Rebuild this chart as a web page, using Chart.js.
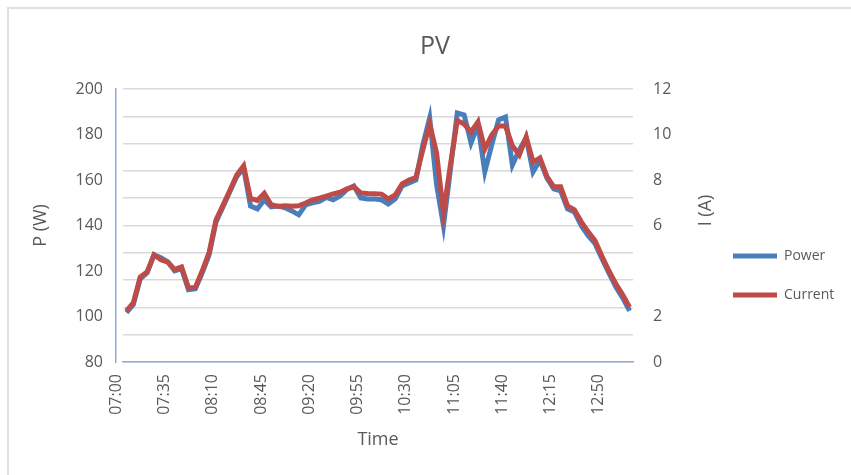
<!DOCTYPE html>
<html>
<head>
<meta charset="utf-8">
<title>PV</title>
<script src="https://cdn.jsdelivr.net/npm/chart.js@4"></script>
<style>
  html, body { margin: 0; padding: 0; background: #fff; }
  #wrap { position: relative; width: 851px; height: 475px; }
  #frame { position: absolute; left: 7px; top: 7px; right: 0; bottom: 0;
           border-top: 2px solid #e0e0e0; border-left: 2px solid #e0e0e0; pointer-events: none; }
</style>
</head>
<body>
<div id="wrap">
  <canvas id="myChart" width="851" height="475"></canvas>
  <div id="frame"></div>
</div>
<script>
/* data, one reading every 5 minutes */

const times = [
  '07:00', '07:05', '07:10', '07:15', '07:20', '07:25', '07:30', '07:35', '07:40', '07:45', '07:50', '07:55',
  '08:00', '08:05', '08:10', '08:15', '08:20', '08:25', '08:30', '08:35', '08:40', '08:45', '08:50', '08:55',
  '09:00', '09:05', '09:10', '09:15', '09:20', '09:25', '09:30', '09:35', '09:40', '09:45', '09:50', '09:55',
  '10:00', '10:05', '10:10', '10:15', '10:20', '10:25', '10:30', '10:35', '10:40', '10:45', '10:50', '10:55',
  '11:00', '11:05', '11:10', '11:15', '11:20', '11:25', '11:30', '11:35', '11:40', '11:45', '11:50', '11:55',
  '12:00', '12:05', '12:10', '12:15', '12:20', '12:25', '12:30', '12:35', '12:40', '12:45', '12:50', '12:55',
  '13:00', '13:05'
];

// P (W), left axis
const power = [
  101.7, 105.2, 116.6, 119.2, 127.1, 125.8, 124.0, 120.1, 121.0, 111.8,
  112.2, 119.2, 127.1, 141.6, 148.2, 154.8, 161.4, 165.3, 148.6, 147.3,
  151.3, 148.2, 148.6, 147.8, 146.4, 144.7, 149.1, 150.0, 150.6, 152.4,
  151.3, 153.0, 155.9, 157.4, 152.1, 151.7, 151.6, 151.3, 149.5, 151.7,
  157.4, 158.7, 160.0, 175.4, 187.3, 157.9, 139.9, 164.4, 189.5, 188.6,
  176.3, 184.2, 163.6, 175.4, 186.4, 187.7, 166.6, 173.2, 178.5, 163.6,
  168.8, 160.9, 156.1, 155.2, 147.3, 146.0, 139.9, 135.5, 132.0, 125.4,
  119.2, 113.1, 108.2, 102.5
];

// I (A), right axis
const current = [
  2.25, 2.60, 3.74, 3.96, 4.71, 4.49, 4.39, 4.07, 4.18, 3.26,
  3.28, 4.01, 4.82, 6.25, 6.89, 7.54, 8.22, 8.62, 7.19, 7.10,
  7.41, 6.91, 6.84, 6.87, 6.85, 6.87, 6.99, 7.13, 7.20, 7.29,
  7.39, 7.46, 7.61, 7.70, 7.43, 7.41, 7.40, 7.38, 7.17, 7.34,
  7.83, 8.00, 8.11, 9.32, 10.46, 9.19, 6.55, 8.66, 10.61, 10.46,
  10.11, 10.55, 9.36, 9.98, 10.37, 10.37, 9.50, 9.10, 9.89, 8.79,
  8.97, 8.16, 7.70, 7.70, 6.86, 6.69, 6.16, 5.72, 5.33, 4.65,
  4.01, 3.44, 2.95, 2.41
];

const labelEvery = 7;                   // one time label per 35 min
const leftTicks = [80, 100, 120, 140, 160, 180, 200];
const rightTicks = [0, 2, 6, 8, 10, 12]; // the "4" is not shown in the original

const textColor = '#595959';
const axisBlue = '#8eaadb';

Chart.defaults.font.family = '"Open Sans", sans-serif';
Chart.defaults.color = textColor;

// right axis title reads bottom-to-top, like the left one
const rightTitle = {
  id: 'rightTitle',
  afterDraw(chart) {
    const { ctx, chartArea, scales } = chart;
    ctx.save();
    ctx.translate(scales.y1.right - 2, (chartArea.top + chartArea.bottom) / 2 - 15);
    ctx.rotate(-Math.PI / 2);
    ctx.font = '18px "Open Sans"';
    ctx.fillStyle = textColor;
    ctx.textAlign = 'center';
    ctx.textBaseline = 'middle';
    ctx.fillText('I (A)', 0, 0);
    ctx.restore();
  }
};

const ctx = document.getElementById('myChart').getContext('2d');

const chart = new Chart(ctx, {
  type: 'line',
  data: {
    labels: times,
    datasets: [{
      label: 'Power',
      data: power,
      yAxisID: 'y',
      borderColor: '#4a7ebb',
      backgroundColor: '#4a7ebb',
      borderWidth: 5,
      pointRadius: 0,
      tension: 0,
      order: 2,
    },
    {
      label: 'Current',
      data: current,
      yAxisID: 'y1',
      borderColor: '#be4b48',
      backgroundColor: '#be4b48',
      borderWidth: 5,
      pointRadius: 0,
      tension: 0,
      order: 1,
    }]
  },
  options: {
    responsive: false,
    animation: false,
    layout: { padding: { left: 26, right: 7, top: 0, bottom: 20 } },
    plugins: {
      title: {
        display: true,
        text: 'PV',
        color: textColor,
        font: { size: 25, weight: 'normal' },
        padding: { top: 32, bottom: 27 },
      },
      legend: {
        position: 'right',
        align: 'center',
        maxWidth: 136,
        // empty title just pushes the two entries down a bit
        title: { display: true, text: ' ', font: { size: 10 }, padding: { top: 84, bottom: 0 } },
        labels: {
          usePointStyle: true,
          pointStyle: 'line',
          pointStyleWidth: 44,
          padding: 25,
          color: textColor,
          font: { size: 14 },
          sort: (a, b) => a.datasetIndex - b.datasetIndex,
        },
      },
      tooltip: { enabled: false },
    },
    scales: {
      x: {
        type: 'category',
        offset: true,
        grid: { display: false, drawTicks: false },
        border: { display: true, color: axisBlue, width: 1.5 },
        ticks: {
          autoSkip: false,
          minRotation: 90,
          maxRotation: 90,
          padding: 12,
          labelOffset: -10,
          font: { size: 16 },
          callback: function (value, index) {
            return index % labelEvery === 0 ? this.getLabelForValue(value) : '';
          },
        },
        title: { display: true, text: 'Time', font: { size: 18 }, padding: { top: 4, bottom: 4 } },
        afterFit: function (scale) { scale.height = 93; },
      },
      y: {
        position: 'left',
        weight: 1,
        min: leftTicks[0],
        max: leftTicks[leftTicks.length - 1],
        grid: { display: false, drawTicks: false },
        border: { display: true, color: axisBlue, width: 1.5 },
        ticks: {
          stepSize: 20,
          padding: 13,
          font: { size: 16 },
          callback: v => leftTicks.includes(v) ? v : '',
        },
        title: { display: true, text: 'P (W)', font: { size: 18 }, padding: { top: 4, bottom: 4 } },
        afterFit: function (scale) { scale.width = 90; },
      },
      // only carries the gridlines (10 bands)
      yg: {
        position: 'left',
        weight: 0,
        min: 0,
        max: 10,
        ticks: { display: false, stepSize: 1 },
        grid: { color: '#d9d9d9', lineWidth: 1.5, drawTicks: false },
        border: { display: false },
        afterFit: function (scale) { scale.width = 7; },
      },
      y1: {
        position: 'right',
        min: 0,
        max: 12,
        grid: { display: false, drawTicks: false },
        border: { display: false },
        ticks: {
          stepSize: 2,
          padding: 20,
          font: { size: 16 },
          callback: v => rightTicks.includes(v) ? v : '',
        },
        afterFit: function (scale) {
          const lw = (scale.chart.legend && scale.chart.legend.width) || 136;
          scale.width = scale.chart.width - 7 - lw - 633;
        },
      },
    },
  },
  plugins: [rightTitle],
});
</script>
</body>
</html>
